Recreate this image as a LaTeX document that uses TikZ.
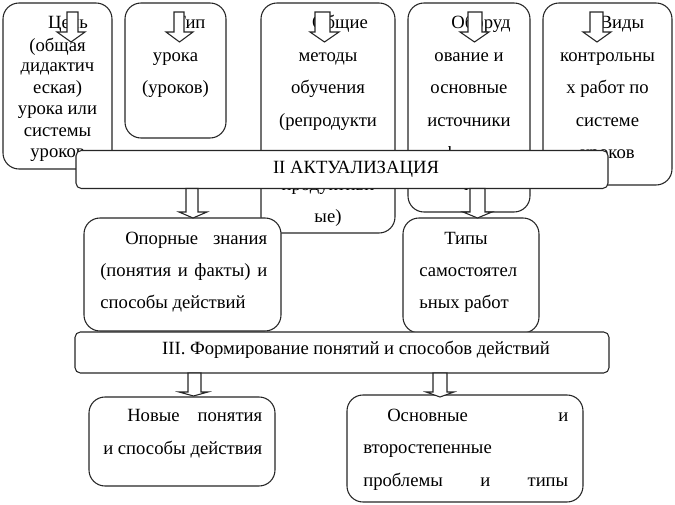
\documentclass[tikz,border=0pt]{standalone}
\usepackage{fontspec}
\setmainfont{Liberation Serif}
\usetikzlibrary{fit}
\newcommand\diagfont{\fontsize{14pt}{16pt}\selectfont}
\tikzset{
  box/.style={draw=black!85, line width=0.8pt, rounded corners=12pt, fill=white, inner sep=0pt},
  banner/.style={draw=black!85, line width=0.8pt, rounded corners=4pt, fill=white, inner sep=0pt},
  tc/.style={inner sep=0pt, font=\diagfont, anchor=base},
  tl/.style={inner sep=0pt, font=\diagfont, anchor=base west},
  blk/.style={draw=black!85, line width=0.8pt, fill=white, line join=miter},
}
% block arrow: shaft left, shaft right, head left, head right, top, head base, tip
\newcommand\bdarrow[7]{\draw[blk] (#1,#5) -- (#1,#6) -- (#3,#6) -- ({(#3+#4)/2},#7) -- (#4,#6) -- (#2,#6) -- (#2,#5) -- cycle;}
\begin{document}
\begin{tikzpicture}[x=0.75pt,y=-0.75pt]
\useasboundingbox (0,0) rectangle (675,505);
% top boxes
\node[box, fit={(3,3) (112,169)}] (A) {};
\node[tc] (a1) at (68,28.3) {Цель};
\node[tc] (a2) at (57.5,51.5) {(общая};
\node[tc] (a3) at (57.5,72) {дидактич};
\node[tc] (a4) at (57.5,94) {еская)};
\node[tc] (a5) at (57.5,115) {урока или};
\node[tc] (a6) at (57.5,136.5) {системы};
\node[tc] (a7) at (57.5,158) {уроков};
\node[box, fit={(125,3) (226,138)}] (B) {};
\node[tc] (b1) at (190,29) {Тип};
\node[tc] (b2) at (175.5,61.5) {урока};
\node[tc] (b3) at (175.5,94) {(уроков)};
\node[box, fit={(261,3) (395,233)}] (C) {};
\node[tc] (c1) at (340,29) {Общие};
\node[tc] (c2) at (328,61.5) {методы};
\node[tc] (c3) at (328,94) {обучения};
\node[tc] (c4) at (328,126.3) {(репродукти};
\node[tc] (c6) at (328,191) {продуктивн};
\node[tc] (c7) at (328,222.5) {ые)};
\node[box, fit={(408,3) (530,212)}] (D) {};
\node[tc] (d1) at (481,29) {Оборуд};
\node[tc] (d2) at (469,61.5) {ование и};
\node[tc] (d3) at (469,94) {основные};
\node[tc] (d4) at (469,126.3) {источники};
\node[tc] (d5) at (469,160) {информаци};
\node[tc] (d6) at (469,190.5) {и};
\node[box, fit={(543,3) (672,185)}] (E) {};
\node[tc] (e1) at (622,29) {Виды};
\node[tc] (e2) at (607.5,61.5) {контрольны};
\node[tc] (e3) at (607.5,94) {х работ по};
\node[tc] (e4) at (607.5,126.3) {системе};
\node[tc] (e5) at (607.5,159) {уроков};
% top arrows
\bdarrow{67}{78}{57}{85}{12}{32}{42}
\bdarrow{174}{184}{166}{193}{12}{32}{42}
\bdarrow{315}{330}{310}{339}{12}{32}{42}
\bdarrow{468}{482}{460}{489}{12}{32}{42}
\bdarrow{590}{603}{583}{611}{12}{32}{42}
% banner II
\node[banner, fit={(76,150.5) (608,188.5)}] (II) {};
\node[tc] (t2) at (356,173.5) {II АКТУАЛИЗАЦИЯ};
% middle boxes
\node[box, fit={(84,218) (281,331)}] (F) {};
\node[tl] (f1) at (125,245) {\hbox to 106.5pt{Опорные\hfill знания}};
\node[tl] (f2) at (100,276.7) {\hbox to 125.25pt{(понятия\hfill и\hfill факты)\hfill и}};
\node[tl] (f3) at (100,308.3) {способы действий};
\node[box, fit={(403,218) (539,333)}] (G) {};
\node[tc] (g1) at (466,245) {Типы};
\node[tl] (g2) at (419,276.7) {самостоятел};
\node[tl] (g3) at (419,308.3) {ьных работ};
% arrows under banner II
\bdarrow{186}{198}{179}{207}{188.5}{212}{218}
\bdarrow{470}{485}{463}{492}{188.5}{212}{218}
% banner III
\node[banner, fit={(75,332) (609,373)}] (III) {};
\node[tc] (t3) at (356,355) {III. Формирование понятий и способов действий};
% bottom boxes
\node[box, fit={(89,397) (275,486)}] (H) {};
\node[tl] (h1) at (127,421.7) {\hbox to 101.25pt{Новые\hfill понятия}};
\node[tl] (h2) at (103,455) {\hbox to 119.25pt{и способы\hfill действия}};
\node[box, fit={(347,395) (583,502)}] (I) {};
\node[tl] (i1) at (387,421.7) {\hbox to 135.75pt{Основные\hfill и}};
\node[tl] (i2) at (363,453.3) {второстепенные};
\node[tl] (i3) at (363,486.7) {\hbox to 153.75pt{проблемы\hfill и\hfill типы}};
% arrows under banner III
\bdarrow{188}{201}{179}{208}{373}{392}{396}
\bdarrow{433}{447}{426}{454}{373}{392}{397}
\end{tikzpicture}
\end{document}
